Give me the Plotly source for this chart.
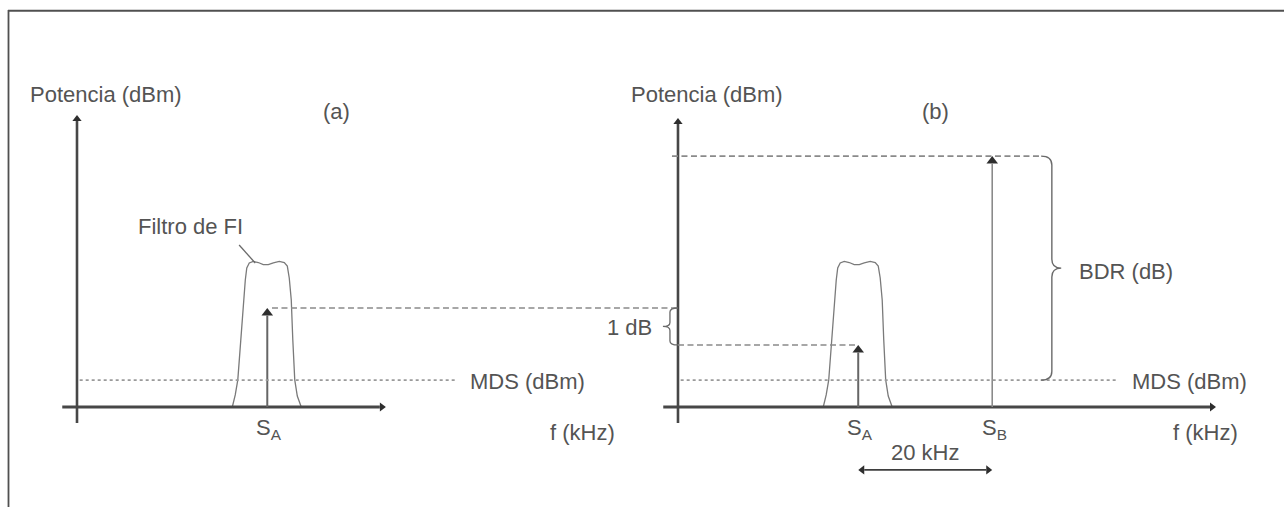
import plotly.graph_objects as go

# ---- values (frequency in kHz, power as relative level) ----
PANEL_LABELS = ["(a)", "(b)"]
PANEL_ORIGIN = [0.0, 89.7]          # where each panel's power axis crosses the frequency axis
F_AXIS_END = [46.1, 80.3]           # frequency-axis arrow tip, relative to the panel origin
P_AXIS_END = [130.4, 129.0]         # power-axis arrow tip
AXIS_TAIL_F = -2.2                  # frequency axis starts slightly left of the power axis
AXIS_TAIL_P = -7.1                  # power axis runs slightly below the frequency axis

SA_FREQ = [28.4, 26.9]              # S_A in each panel
SA_LEVEL = [44.2, 27.7]             # S_A level: sensitivity (a) and 1 dB lower (b)
SB_OFFSET = 20.0                    # S_B sits 20 kHz from S_A
SB_LEVEL = 112.0
MDS_LEVEL = 12.0
MDS_END = [56.4, 65.4]

# IF filter passband, relative to the signal it is centred on
FILTER_DF = [-5.22, -4.78, -4.40, -3.96, -3.58, -3.28, -3.06, -2.69, -2.09, -1.34, -0.60,
             0.15, 0.90, 1.79, 2.54, 2.99, 3.28, 3.58, 3.81, 4.10, 4.48, 5.07]
FILTER_LEVEL = [0.0, 5.4, 12.1, 29.9, 47.8, 56.7, 62.1, 64.3, 65.0, 64.5, 63.6,
                63.6, 64.3, 65.0, 64.5, 62.9, 57.6, 47.8, 29.9, 12.1, 4.9, 0.0]

FONT = "Liberation Sans, Arial, Helvetica, sans-serif"
TXT = "#545454"
AXIS_C = "#474747"
HEAD_C = "#2e2e2e"
PX_PER_F = 6.7       # screen pixels per kHz
PX_PER_P = 2.24      # screen pixels per level unit

fig = go.Figure()
shapes = []
ann = []


def label(text, x, y, size=22, xanchor="center", yanchor="middle"):
    ann.append(dict(text=text, x=x, y=y, xref="x", yref="y", showarrow=False,
                    xanchor=xanchor, yanchor=yanchor,
                    font=dict(family=FONT, size=size, color=TXT)))


def seg(x0, y0, x1, y1, color, width, dash="solid"):
    fig.add_trace(go.Scatter(x=[x0, x1], y=[y0, y1], mode="lines",
                             line=dict(color=color, width=width, dash=dash),
                             hoverinfo="skip", showlegend=False))


def head(x, y, direction, size, color=HEAD_C):
    """Triangle whose tip sits exactly on (x, y)."""
    r = size / 2
    sym = {"up": "triangle-up", "right": "triangle-right", "left": "triangle-left"}[direction]
    if direction == "up":
        cx, cy, bx, by = x, y - r / PX_PER_P, x, y - 1.5 * r / PX_PER_P
    elif direction == "right":
        cx, cy, bx, by = x - r / PX_PER_F, y, x - 1.5 * r / PX_PER_F, y
    else:
        cx, cy, bx, by = x + r / PX_PER_F, y, x + 1.5 * r / PX_PER_F, y
    fig.add_trace(go.Scatter(x=[cx], y=[cy], mode="markers",
                             marker=dict(symbol=sym, size=size, color=color,
                                         line=dict(width=0)),
                             hoverinfo="skip", showlegend=False))
    return bx, by


def arrow(x0, y0, x1, y1, color, width, direction, size):
    bx, by = head(x1, y1, direction, size)
    seg(x0, y0, bx, by, color, width)


def hline(x0, x1, y, color, width, dash):
    shapes.append(dict(type="line", xref="x", yref="y", x0=x0, x1=x1, y0=y, y1=y,
                       line=dict(color=color, width=width, dash=dash)))


def brace_path(x_edge, x_spine, x_tip, y_lo, y_hi, r):
    ym = (y_lo + y_hi) / 2
    return (f"M{x_edge},{y_hi} Q{x_spine},{y_hi} {x_spine},{y_hi - r} "
            f"L{x_spine},{ym + r} Q{x_spine},{ym} {x_tip},{ym} "
            f"Q{x_spine},{ym} {x_spine},{ym - r} "
            f"L{x_spine},{y_lo + r} Q{x_spine},{y_lo} {x_edge},{y_lo}")


for i, origin in enumerate(PANEL_ORIGIN):
    sa = origin + SA_FREQ[i]

    # MDS level
    hline(origin + 0.4, origin + MDS_END[i], MDS_LEVEL, "#9a9a9a", 1.6, "3px,3px")

    # IF filter passband around S_A
    fig.add_trace(go.Scatter(
        x=[sa + d for d in FILTER_DF], y=FILTER_LEVEL, mode="lines",
        line=dict(color="#7a7a7a", width=1.3), hoverinfo="skip", showlegend=False))

    # axes
    arrow(origin, AXIS_TAIL_P, origin, P_AXIS_END[i], AXIS_C, 2.6, "up", 8)
    arrow(origin + AXIS_TAIL_F, 0, origin + F_AXIS_END[i], 0, AXIS_C, 3.0, "right", 8)

    # S_A
    arrow(sa, 0, sa, SA_LEVEL[i], "#666666", 2.0, "up", 10)

    label("Potencia (dBm)", origin + 4.3, 139.3)
    label(PANEL_LABELS[i], origin + [38.8, 38.4][i], [132.1, 131.7][i])
    label("MDS (dBm)", origin + MDS_END[i] + 2.0, MDS_LEVEL - 0.4, xanchor="left")
    label("S<sub>A</sub>", sa + 0.3, -2.6, yanchor="top")
    label("f (kHz)", origin + [75.4, 78.7][i], -11.4)

# panel (a): filter call-out
sa_a = PANEL_ORIGIN[0] + SA_FREQ[0]
seg(sa_a - 4.2, 72.3, sa_a - 1.8, 64.3, "#6a6a6a", 1.3)
label("Filtro de FI", sa_a - 11.4, 80.8)

# panel (b): blocking signal S_B and reference levels
ob = PANEL_ORIGIN[1]
sa_b = ob + SA_FREQ[1]
sb = sa_b + SB_OFFSET
hline(sa_a + 0.7, ob, SA_LEVEL[0], "#8a8a8a", 1.6, "6px,3.5px")
hline(ob, sa_b, SA_LEVEL[1], "#8a8a8a", 1.6, "6px,3.5px")
hline(ob - 0.9, ob + 54.2, SB_LEVEL, "#8a8a8a", 1.6, "6px,3.5px")
arrow(sb, 0, sb, SB_LEVEL, "#8a8a8a", 1.6, "up", 10)
label("S<sub>B</sub>", sb + 0.3, -2.6, yanchor="top")

# 1 dB brace between the two S_A levels
shapes.append(dict(type="path", xref="x", yref="y",
                   path=brace_path(ob, ob - 1.2, ob - 2.25, SA_LEVEL[1], SA_LEVEL[0], 1.8),
                   line=dict(color="#6a6a6a", width=1.3)))
label("1 dB", ob - 7.2, 35.3)

# BDR brace from MDS up to S_B
shapes.append(dict(type="path", xref="x", yref="y",
                   path=brace_path(ob + 54.2, ob + 55.8, ob + 57.2, MDS_LEVEL, SB_LEVEL, 4.0),
                   line=dict(color="#6a6a6a", width=1.4)))
label("BDR (dB)", ob + 59.5, 60.7, xanchor="left")

# 20 kHz spacing
lx, _ = head(sa_b, -28.1, "left", 8)
rx, _ = head(sb, -28.1, "right", 8)
seg(lx, -28.1, rx, -28.1, "#3e3e3e", 1.8)
label("20 kHz", (sa_b + sb) / 2, -20.1)

# outer frame (top and left edges)
shapes.append(dict(type="line", xref="paper", yref="paper", x0=8 / 1284, x1=1,
                   y0=1 - 10.8 / 507, y1=1 - 10.8 / 507, line=dict(color="#505050", width=2)))
shapes.append(dict(type="line", xref="paper", yref="paper", x0=8.5 / 1284, x1=8.5 / 1284,
                   y0=0, y1=1 - 10 / 507, line=dict(color="#505050", width=1.8)))

fig.update_layout(
    width=1284, height=507, autosize=False,
    margin=dict(l=0, r=0, t=0, b=0),
    paper_bgcolor="white", plot_bgcolor="white",
    shapes=shapes, annotations=ann, showlegend=False,
    xaxis=dict(range=[-77 / PX_PER_F, (1284 - 77) / PX_PER_F], visible=False, fixedrange=True),
    yaxis=dict(range=[-100 / PX_PER_P, 407 / PX_PER_P], visible=False, fixedrange=True),
)

fig.write_html("out.html")
